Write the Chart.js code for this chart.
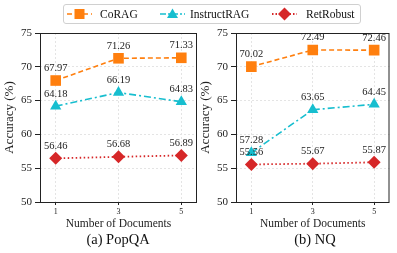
<!DOCTYPE html>
<html>
<head>
<meta charset="utf-8">
<script src="https://cdn.jsdelivr.net/npm/chart.js@4.4.0/dist/chart.umd.min.js"></script>
<style>
  body { margin: 0; background: #fff; font-family: "Liberation Serif", serif; }
  #wrap { position: relative; width: 397px; height: 253px; overflow: hidden; }
  canvas { position: absolute; left: 0; top: 0; }
  .legend { position: absolute; left: 63px; top: 4px; width: 298px; height: 20px; box-sizing: border-box;
    border: 1px solid #d0d0d0; border-radius: 3px; font-size: 11.5px; color: #111; }
  .legend svg, .legend span { position: absolute; }
  .legend svg { top: 2px; }
  .legend span { top: 2px; line-height: 14px; }
  .sub { position: absolute; top: 231px; font-size: 14.5px; color: #111; transform: translateX(-50%); white-space: nowrap; }
</style>
</head>
<body>
<div id="wrap">
  <canvas id="c1" width="397" height="253"></canvas>
  <canvas id="c2" width="397" height="253"></canvas>
  <div class="legend">
    <svg style="left:3px" width="25" height="14"><line x1="0" y1="7" x2="25" y2="7" stroke="#ff7f0e" stroke-width="1.6" stroke-dasharray="5,3"/><rect x="7.5" y="2" width="10" height="10" fill="#ff7f0e"/></svg>
    <span style="left:36px">CoRAG</span>
    <svg style="left:96px" width="25" height="14"><line x1="0" y1="7" x2="25" y2="7" stroke="#17becf" stroke-width="1.6" stroke-dasharray="6,2,2,2"/><polygon points="12.5,1.5 18,11 7,11" fill="#17becf"/></svg>
    <span style="left:126px">InstructRAG</span>
    <svg style="left:208px" width="25" height="14"><line x1="0" y1="7" x2="25" y2="7" stroke="#d62728" stroke-width="1.8" stroke-dasharray="1.5,2"/><polygon points="12.5,0.5 19,7 12.5,13.5 6,7" fill="#d62728"/></svg>
    <span style="left:242px">RetRobust</span>
  </div>
  <div class="sub" style="left:118px">(a) PopQA</div>
  <div class="sub" style="left:315px">(b) NQ</div>
</div>
<script>
const docs = [1, 3, 5];
const yTicks = [50, 55, 60, 65, 70, 75];

const popqaCorag = [67.97, 71.26, 71.33];
const popqaInstruct = [64.18, 66.19, 64.83];
const popqaRet = [56.46, 56.68, 56.89];

const nqCorag = [70.02, 72.49, 72.46];
const nqInstruct = [57.28, 63.65, 64.45];
const nqRet = [55.56, 55.67, 55.87];

const FONT = "'Liberation Serif', serif";

function pts(vals) {
  return docs.map((d, i) => ({ x: d, y: vals[i] }));
}

// value labels above each marker + full box around plot area
const labelPlugin = {
  id: 'labels',
  afterDatasetsDraw(chart) {
    const ctx = chart.ctx;
    ctx.save();
    ctx.font = "10.5px " + FONT;
    ctx.fillStyle = '#222';
    ctx.textAlign = 'center';
    ctx.textBaseline = 'bottom';
    chart.data.datasets.forEach((ds, di) => {
      chart.getDatasetMeta(di).data.forEach((p, i) => {
        ctx.fillText(ds.data[i].y.toFixed(2), p.x, p.y - 7);
      });
    });
    const a = chart.chartArea;
    ctx.strokeStyle = '#222';
    ctx.lineWidth = 1;
    ctx.strokeRect(a.left + 0.5, a.top + 0.5, a.right - a.left - 1, a.bottom - a.top);
    ctx.restore();
  }
};

function makeChart(id, corag, instruct, ret, area) {
  const pad = { left: area.left - 38, right: 397 - area.right, top: area.top, bottom: 253 - area.bottom - 30 };
  const chart = new Chart(document.getElementById(id), {
    type: 'line',
    data: {
      datasets: [
        { label: 'CoRAG', data: pts(corag), borderColor: '#ff7f0e', backgroundColor: '#ff7f0e',
          borderWidth: 1.6, borderDash: [5, 3], pointStyle: 'rect', pointRadius: 7.5, pointBorderWidth: 0, order: 3 },
        { label: 'InstructRAG', data: pts(instruct), borderColor: '#17becf', backgroundColor: '#17becf',
          borderWidth: 1.6, borderDash: [7, 3, 2, 3], pointStyle: 'triangle', pointRadius: 6.5, pointBorderWidth: 0, order: 2 },
        { label: 'RetRobust', data: pts(ret), borderColor: '#d62728', backgroundColor: '#d62728',
          borderWidth: 1.8, borderDash: [1.5, 2.5], pointStyle: 'rectRot', pointRadius: 6.5, pointBorderWidth: 0, order: 1 }
      ]
    },
    options: {
      responsive: false,
      animation: false,
      layout: { padding: pad },
      plugins: { legend: { display: false }, tooltip: { enabled: false } },
      scales: {
        x: {
          type: 'linear', min: 0.5, max: 5.5,
          afterBuildTicks: s => { s.ticks = docs.map(v => ({ value: v })); },
          afterFit: s => { s.height = 30; },
          ticks: { font: { family: FONT, size: 8 }, color: '#222', padding: 2 },
          grid: { color: '#e4e4e4', tickColor: '#222', tickLength: 3 },
          border: { display: false, dash: [2, 2] },
          title: { display: true, text: 'Number of Documents', font: { family: FONT, size: 11.5 }, color: '#222', padding: { top: 0, bottom: 1 } }
        },
        y: {
          min: 50, max: 75,
          afterBuildTicks: s => { s.ticks = yTicks.map(v => ({ value: v })); },
          afterFit: s => { s.width = 38; },
          ticks: { font: { family: FONT, size: 11 }, color: '#222', padding: 3 },
          grid: { color: '#e4e4e4', tickColor: '#222', tickLength: 5 },
          border: { display: false, dash: [2, 2] },
          title: { display: true, text: 'Accuracy (%)', font: { family: FONT, size: 13 }, color: '#222', padding: { top: 0, bottom: 0 } }
        }
      }
    },
    plugins: [labelPlugin]
  });
  // nudge padding so the plot area lands exactly where the figure has it
  const a = chart.chartArea;
  pad.left += area.left - a.left;
  pad.right += a.right - area.right;
  pad.top += area.top - a.top;
  pad.bottom += a.bottom - area.bottom;
  chart.config.options.layout.padding = pad;
  chart.update();
}

makeChart('c1', popqaCorag, popqaInstruct, popqaRet, { left: 40, right: 197, top: 33, bottom: 202 });
makeChart('c2', nqCorag, nqInstruct, nqRet, { left: 236, right: 393, top: 33, bottom: 202 });
</script>
</body>
</html>
